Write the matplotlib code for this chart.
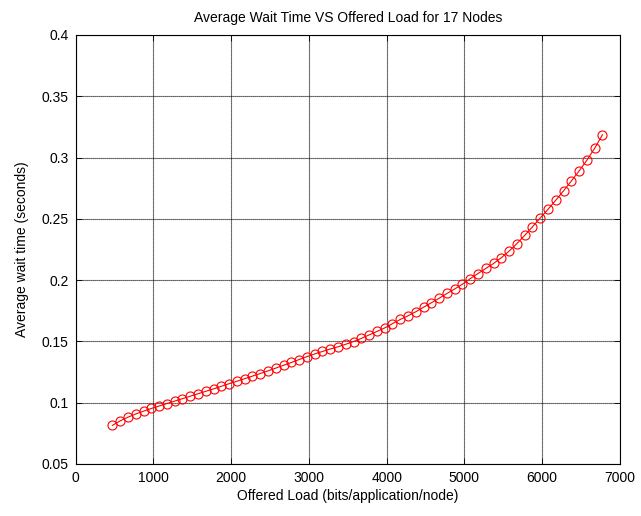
import matplotlib
matplotlib.use("Agg")
import matplotlib.pyplot as plt

offered_load = [475, 575, 675, 775, 875, 975, 1075, 1175, 1275, 1375,
                1475, 1575, 1675, 1775, 1875, 1975, 2075, 2175, 2275, 2375,
                2475, 2575, 2675, 2775, 2875, 2975, 3075, 3175, 3275, 3375,
                3475, 3575, 3675, 3775, 3875, 3975, 4075, 4175, 4275, 4375,
                4475, 4575, 4675, 4775, 4875, 4975, 5075, 5175, 5275, 5375,
                5475, 5575, 5675, 5775, 5875, 5975, 6075, 6175, 6275, 6375,
                6475, 6575, 6675, 6775]
wait_time = [0.0815, 0.0852, 0.0882, 0.0908, 0.0931, 0.0953, 0.0973, 0.0993, 0.1013, 0.1033,
             0.1053, 0.1073, 0.1093, 0.1113, 0.1134, 0.1155, 0.1175, 0.1196, 0.1217, 0.1238,
             0.1260, 0.1282, 0.1305, 0.1328, 0.1352, 0.1376, 0.1398, 0.1418, 0.1438, 0.1456,
             0.1477, 0.1499, 0.1525, 0.1553, 0.1581, 0.1610, 0.1645, 0.1679, 0.1709, 0.1742,
             0.1779, 0.1815, 0.1852, 0.1891, 0.1928, 0.1967, 0.2012, 0.2054, 0.2095, 0.2136,
             0.2183, 0.2237, 0.2298, 0.2365, 0.2435, 0.2507, 0.2578, 0.2652, 0.2729, 0.2809,
             0.2891, 0.2979, 0.3076, 0.3186]
x_ticks = [0, 1000, 2000, 3000, 4000, 5000, 6000, 7000]
y_ticks = [0.05, 0.1, 0.15, 0.2, 0.25, 0.3, 0.35, 0.4]
y_tick_labels = ["0.05", "0.1", "0.15", "0.2", "0.25", "0.3", "0.35", "0.4"]

plt.rcParams['font.family'] = ['Liberation Sans', 'DejaVu Sans']
plt.rcParams['font.size'] = 10

fig = plt.figure(figsize=(6.41, 5.16), dpi=100)
ax = fig.add_axes([0.1178, 0.1008, 0.8494, 0.8314])

ax.plot(offered_load, wait_time, color='red', linestyle='-', linewidth=0.8,
        marker='o', markersize=6.5, markerfacecolor='none', markeredgecolor='red',
        markeredgewidth=0.8)

ax.set_xlim(0, 7000)
ax.set_ylim(0.05, 0.4)
ax.set_xticks(x_ticks)
ax.set_yticks(y_ticks)
ax.set_yticklabels(y_tick_labels)
ax.grid(True, color='black', linestyle=(0, (1, 0.8)), linewidth=0.8)
ax.tick_params(direction='in', length=4, width=0.6, top=True, right=True, pad=5)
for s in ax.spines.values():
    s.set_linewidth(0.8)
    s.set_color('black')

ax.set_title("Average Wait Time VS Offered Load for 17 Nodes", fontsize=10, pad=9)
ax.set_xlabel("Offered Load (bits/application/node)", fontsize=10, labelpad=3)
ax.set_ylabel("Average wait time (seconds)", fontsize=10, labelpad=9)

fig.savefig("out.png", dpi=100, facecolor='white')
